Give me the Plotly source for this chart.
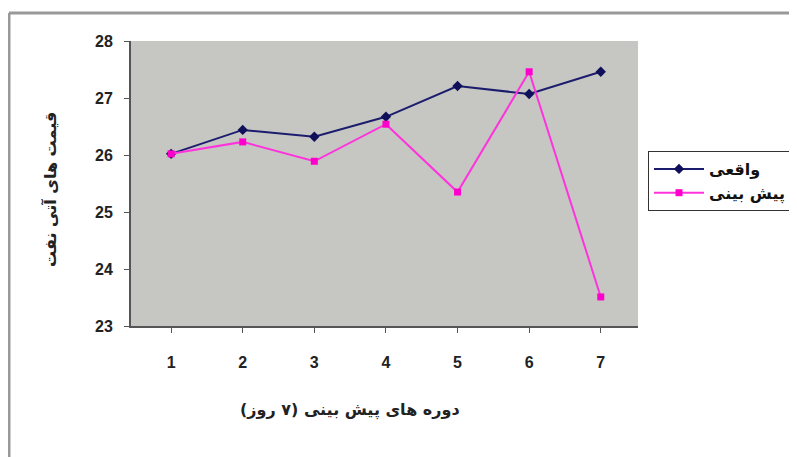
import plotly.graph_objects as go

periods = [1, 2, 3, 4, 5, 6, 7]
actual = [26.02, 26.44, 26.32, 26.67, 27.21, 27.07, 27.46]
forecast = [26.02, 26.23, 25.89, 26.54, 25.35, 27.46, 23.51]
y_ticks = [23, 24, 25, 26, 27, 28]
name_actual = "واقعی"
name_forecast = "پیش بینی"
y_title = "قیمت های آتی نفت"
x_title = "دوره های پیش بینی (۷ روز)"

# page has an 8px body margin; plot area in screenshot pixels is x 131..638, y 41..326
OFF = 8
PX0, PX1, PY0, PY1 = 131 - OFF, 638 - OFF, 41 - OFF, 326 - OFF
W, H = 797, 457


def px(x):
    return (x - OFF - PX0) / (PX1 - PX0)


def py(y):
    return (PY1 - (y - OFF)) / (PY1 - PY0)


fig = go.Figure()
fig.add_trace(go.Scatter(
    x=periods, y=actual, name=name_actual, mode="lines+markers",
    line=dict(color="#1c1c6e", width=2),
    marker=dict(symbol="diamond", size=8, color="#10105a"),
))
fig.add_trace(go.Scatter(
    x=periods, y=forecast, name=name_forecast, mode="lines+markers",
    line=dict(color="#ff33dd", width=2),
    marker=dict(symbol="square", size=7, color="#ff00cc"),
))

fig.update_layout(
    width=W, height=H,
    margin=dict(l=PX0, r=W - PX1, t=PY0, b=H - PY1),
    paper_bgcolor="white",
    plot_bgcolor="#c6c6c3",
    font=dict(family="Liberation Sans, Arial, sans-serif", color="#222"),
    showlegend=True,
    legend=dict(
        x=px(648), y=py(151), xanchor="left", yanchor="top",
        bgcolor="white", bordercolor="#333", borderwidth=1,
        font=dict(size=16, color="#111", family="DejaVu Sans, sans-serif", weight="bold"),
        itemwidth=50,
    ),
    xaxis=dict(
        range=[0.44, 7.52], tickvals=periods, showgrid=False, zeroline=False,
        showline=True, linecolor="#555", linewidth=2,
        ticks="outside", ticklen=5, tickcolor="#555",
        ticklabelstandoff=16,
        tickfont=dict(size=16, family="Liberation Sans, Arial", color="#222", weight="bold"),
    ),
    yaxis=dict(
        range=[23, 28], tickvals=y_ticks, showgrid=False, zeroline=False,
        showline=True, linecolor="#555", linewidth=2,
        ticks="outside", ticklen=5, tickcolor="#555",
        ticklabelstandoff=8,
        tickfont=dict(size=16, family="Liberation Sans, Arial", color="#222", weight="bold"),
    ),
    annotations=[
        dict(text=y_title, xref="paper", yref="paper", x=px(50), y=py(190),
             xanchor="center", yanchor="middle",
             showarrow=False, textangle=-90,
             font=dict(size=16, color="#222", family="DejaVu Sans", weight="bold")),
        dict(text=x_title, xref="paper", yref="paper", x=px(350), y=py(410),
             xanchor="center", yanchor="middle",
             showarrow=False,
             font=dict(size=16, color="#222", family="DejaVu Sans", weight="bold")),
    ],
    shapes=[
        dict(type="line", xref="paper", yref="paper", x0=px(9), x1=px(805),
             y0=py(13), y1=py(13), line=dict(color="#999", width=3)),
        dict(type="line", xref="paper", yref="paper", x0=px(9), x1=px(9),
             y0=py(13), y1=py(470), line=dict(color="#999", width=3)),
    ],
)

fig.write_html("out.html")
